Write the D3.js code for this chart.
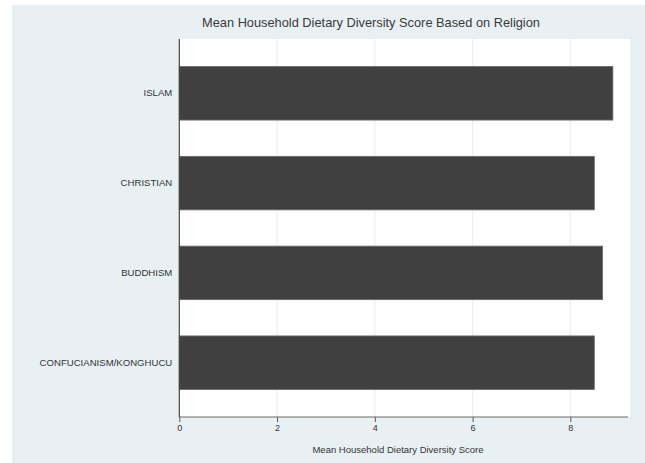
<!DOCTYPE html>
<html>
<head>
<meta charset="utf-8">
<script src="https://cdn.jsdelivr.net/npm/d3@7"></script>
<style>
  html, body { margin: 0; padding: 0; background: #ffffff; }
  svg { display: block; }
  text { font-family: "Liberation Sans", Arial, Helvetica, sans-serif; }
</style>
</head>
<body>
<svg id="chart" width="645" height="463"></svg>
<script>
const categories = ["ISLAM", "CHRISTIAN", "BUDDHISM", "CONFUCIANISM/KONGHUCU"];
const values = [8.87, 8.49, 8.66, 8.49];
const xTicks = [0, 2, 4, 6, 8];
const title = "Mean Household Dietary Diversity Score Based on Religion";
const xTitle = "Mean Household Dietary Diversity Score";

const svg = d3.select("#chart");
const W = 645, H = 463;
const plot = { left: 179.3, right: 630, top: 39, bottom: 417 };

// outer graph region
svg.append("rect").attr("x", 12).attr("y", 5).attr("width", W - 12).attr("height", H - 5)
  .attr("fill", "#e9f0f3");
// plot region
svg.append("rect").attr("x", plot.left).attr("y", plot.top)
  .attr("width", plot.right - plot.left).attr("height", plot.bottom - plot.top)
  .attr("fill", "#ffffff");

const x = d3.scaleLinear().domain([0, 9.22]).range([plot.left, plot.right]);
const y = d3.scaleBand().domain(categories).range([plot.top, plot.bottom])
  .paddingInner(0.404).paddingOuter(0.307);

// gridlines
svg.append("g").selectAll("line").data(xTicks.filter(d => d > 0)).join("line")
  .attr("x1", d => x(d)).attr("x2", d => x(d))
  .attr("y1", plot.top).attr("y2", plot.bottom)
  .attr("stroke", "#eaf0f2").attr("stroke-width", 1.2);

// bars
svg.append("g").selectAll("rect").data(categories).join("rect")
  .attr("x", x(0)).attr("y", d => y(d))
  .attr("width", (d, i) => x(values[i]) - x(0))
  .attr("height", y.bandwidth())
  .attr("fill", "#404040").attr("stroke", "#6a6a6a").attr("stroke-width", 0.8);

// x axis
const xAxis = d3.axisBottom(x).tickValues(xTicks).tickSize(5).tickPadding(3)
  .tickFormat(d3.format("d"));
const gx = svg.append("g").attr("transform", `translate(0,${plot.bottom})`).call(xAxis);
gx.select(".domain").attr("stroke", "#6b6b6b").attr("stroke-width", 1.2)
  .attr("d", `M${plot.left},0H${plot.right - 2}`);
gx.selectAll(".tick line").attr("stroke", "#555");
gx.selectAll(".tick text").attr("fill", "#333").style("font-size", "9px")
  .style("font-family", "'Liberation Sans', Arial, sans-serif");

// y axis
const yAxis = d3.axisLeft(y).tickSize(0).tickPadding(7);
const gy = svg.append("g").attr("transform", `translate(${plot.left},0)`).call(yAxis);
gy.select(".domain").attr("stroke", "#444").attr("stroke-width", 1.2)
  .attr("d", `M0,${plot.top}V${plot.bottom}`);
gy.selectAll(".tick text").attr("fill", "#333").style("font-size", "9.6px")
  .style("font-family", "'Liberation Sans', Arial, sans-serif");

// titles
svg.append("text").attr("x", 371).attr("y", 27).attr("text-anchor", "middle")
  .attr("fill", "#3a3a3a").style("font-size", "12.8px").text(title);
svg.append("text").attr("x", 398).attr("y", 453).attr("text-anchor", "middle")
  .attr("fill", "#333").style("font-size", "9.5px").text(xTitle);
</script>
</body>
</html>
